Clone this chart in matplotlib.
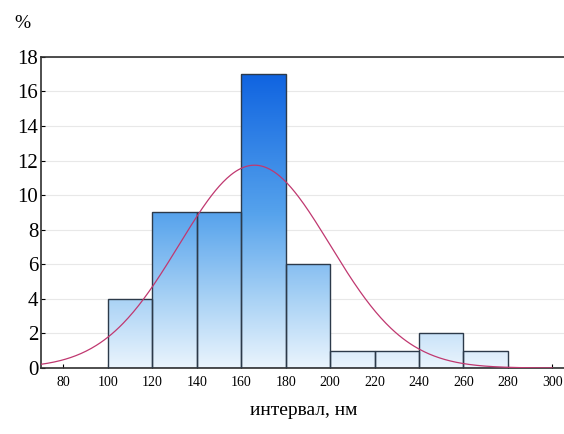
import numpy as np
import matplotlib.pyplot as plt

# гистограмма интервалов
bin_left = [100, 120, 140, 160, 180, 200, 220, 240, 260]
bin_width = 20
percent = [4, 9, 9, 17, 6, 1, 1, 2, 1]
x_ticks = [80, 100, 120, 140, 160, 180, 200, 220, 240, 260, 280, 300]
y_ticks = [0, 2, 4, 6, 8, 10, 12, 14, 16, 18]
fit_mean = 166
fit_sd = 34

plt.rcParams['font.family'] = ['Liberation Serif', 'DejaVu Serif']

fig = plt.figure(figsize=(5.64, 4.34), dpi=100)
ax = fig.add_axes([0.073, 0.152, 0.93, 0.717])

# градиент для столбцов
grad = np.linspace(0, 1, 256).reshape(-1, 1)
cmap = plt.matplotlib.colors.LinearSegmentedColormap.from_list(
    'bl', [(0, '#eaf4fd'), (0.22, '#a9d2f5'), (0.5, '#55a2ec'), (1, '#075cdf')])

bars = ax.bar(bin_left, percent, width=bin_width, align='edge',
              color='none', edgecolor='#2c3a4a', linewidth=1.0, zorder=3)
for b in bars:
    im = ax.imshow(grad, cmap=cmap, origin='lower', aspect='auto',
                   extent=[70, 306, 0, 18], zorder=2)
    im.set_clip_path(b)
ax.set_xlim(70, 306)
ax.set_ylim(0, 18)

xs = np.linspace(70, 300, 400)
ys = sum(percent) * bin_width / (fit_sd * np.sqrt(2 * np.pi)) * np.exp(-(xs - fit_mean) ** 2 / (2 * fit_sd ** 2))
ax.plot(xs, ys, color='#c03870', linewidth=0.9, zorder=4)

ax.set_yticks(y_ticks)
ax.set_xticks(x_ticks)
ax.tick_params(axis='y', labelsize=15, direction='in', length=3, pad=2)
ax.tick_params(axis='x', labelsize=10, direction='in', length=3, pad=6)
ax.grid(axis='y', color='#e8e8e8', linewidth=0.8, zorder=0)
ax.spines['right'].set_visible(False)
for s in ['left', 'bottom', 'top']:
    ax.spines[s].set_color('#303030')
    ax.spines[s].set_linewidth(1.2)

ax.set_xlabel('интервал, нм', fontsize=14, labelpad=9)
fig.text(0.04, 0.945, '%', fontsize=14, ha='center', va='center')

fig.savefig('out.png', dpi=100)
